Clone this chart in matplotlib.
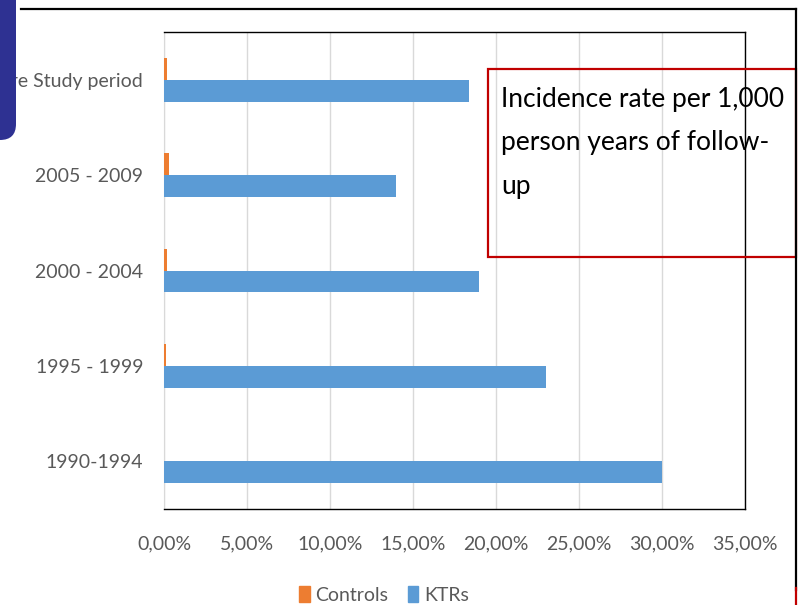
import numpy as np
import matplotlib.pyplot as plt
from matplotlib.patches import Patch, Rectangle, FancyBboxPatch
from matplotlib.ticker import FuncFormatter

plt.rcParams['font.family'] = ['Lato', 'DejaVu Sans']

periods = ['1990-1994', '1995 - 1999', '2000 - 2004', '2005 - 2009', 'Entire Study period']
ktrs = [30.0, 23.0, 19.0, 14.0, 18.4]
controls = [0.0, 0.1, 0.18, 0.3, 0.18]

c_ktrs = '#5B9BD5'
c_ctrl = '#ED7D31'
grey = '#595959'

fig = plt.figure(figsize=(7.98, 6.05), dpi=100)
ax = fig.add_axes([164/798, 1 - 509/605, 581/798, 477/605])

y = np.arange(len(periods))
h = 0.23
ax.barh(y - h/2, ktrs, height=h, color=c_ktrs, zorder=3)
ax.barh(y + h/2, controls, height=h, color=c_ctrl, zorder=3)

ax.set_xlim(0, 35)
ax.set_ylim(-0.5, 4.5)
ax.set_xticks(np.arange(0, 36, 5))
ax.xaxis.set_major_formatter(FuncFormatter(lambda v, p: f'{v:.2f}'.replace('.', ',') + '%'))
ax.set_yticks(y)
ax.set_yticklabels(periods)
ax.tick_params(length=0, labelsize=14, labelcolor=grey)
ax.tick_params(axis='x', pad=19)
ax.tick_params(axis='y', pad=15)
ax.grid(axis='x', color='#D9D9D9', lw=1, zorder=0)
for s in ['top', 'right', 'bottom']:
    ax.spines[s].set_color('black')
    ax.spines[s].set_linewidth(1)
ax.spines['left'].set_color('#D9D9D9')

fig.legend(handles=[Patch(color=c_ctrl, label='Controls'), Patch(color=c_ktrs, label='KTRs')],
           loc='center', bbox_to_anchor=(384/798, 1 - 595/605), ncol=2, frameon=False,
           fontsize=14, labelcolor=grey, handlelength=0.55, handleheight=0.9,
           handletextpad=0.3, columnspacing=1.0)

# slide decorations drawn in pixel space
ov = fig.add_axes([0, 0, 1, 1], zorder=10)
ov.set_xlim(0, 798)
ov.set_ylim(605, 0)
ov.axis('off')
ov.patch.set_alpha(0)
ov.add_patch(FancyBboxPatch((-40, -40), 56, 180, boxstyle='round,pad=0,rounding_size=16',
                            fc='#2E3192', ec='none'))
ov.plot([21, 796], [8.5, 8.5], color='black', lw=1.6)
ov.plot([796, 796], [8.5, 590], color='black', lw=1.6)
ov.plot([796, 796], [588, 605], color='#C00000', lw=1.6)
ov.add_patch(Rectangle((488, 69), 308, 188, fc='none', ec='#C00000', lw=1.6))
ov.text(501, 87, 'Incidence rate per 1,000\nperson years of follow-\nup', fontsize=19,
        color='black', va='top', ha='left', linespacing=1.92)

fig.savefig('out.png', dpi=100)
